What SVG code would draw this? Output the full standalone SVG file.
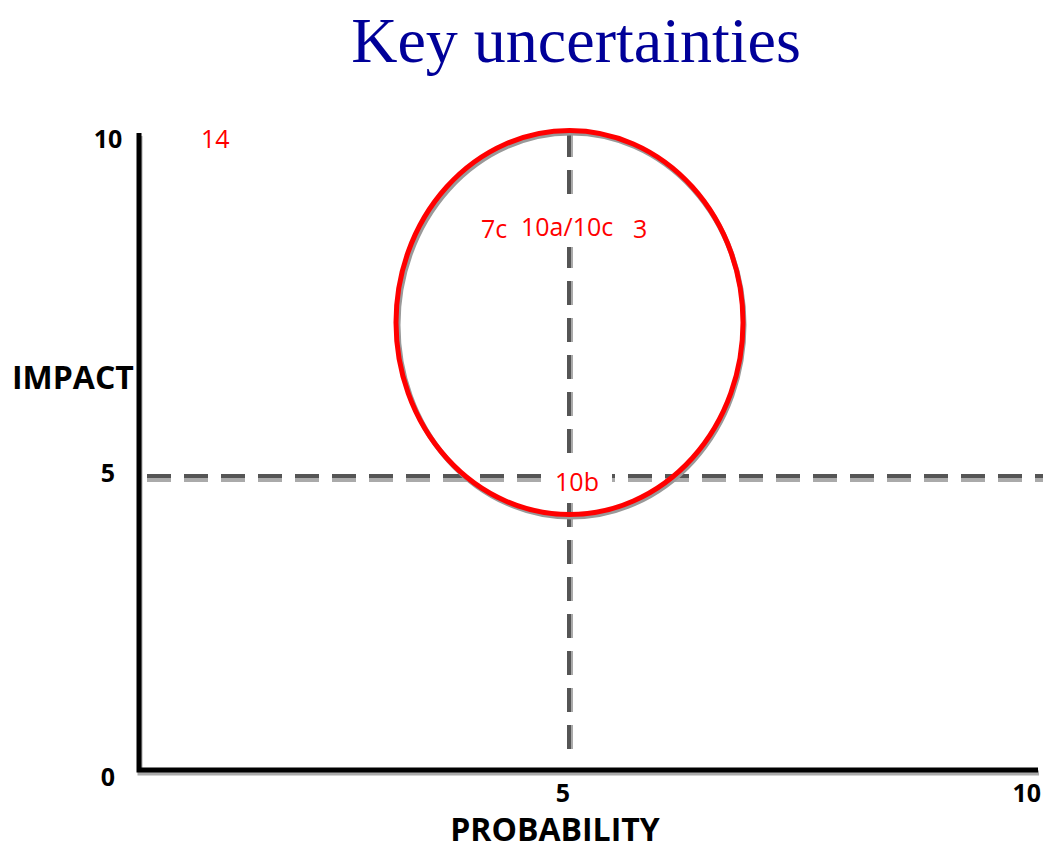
<svg xmlns="http://www.w3.org/2000/svg" width="1043" height="848" viewBox="0 0 1043 848">
<style>
.ax{font-family:"Open Sans","Liberation Sans",sans-serif;font-weight:bold;fill:#000}
.num{font-size:25px}
.big{font-size:32px}
.lb{font-family:"Open Sans","Liberation Sans",sans-serif;fill:#ff0000;font-size:25px}
.bg{fill:#fff}
.dash{stroke:#555;stroke-width:4;stroke-dasharray:24 13;fill:none}
.dashsh{stroke:#aaa;stroke-width:4;stroke-dasharray:24 13;fill:none}
</style>
<rect width="1043" height="848" fill="#fff"/>
<text x="576" y="62" text-anchor="middle" font-family="Liberation Serif,serif" font-size="64" fill="#000099">Key uncertainties</text>
<g id="connectors">
<line class="dashsh" x1="147" y1="480" x2="1043" y2="480"/>
<line class="dash" x1="147" y1="476" x2="1043" y2="476"/>
<line class="dashsh" x1="571" y1="133" x2="571" y2="760"/>
<line class="dash" x1="569" y1="133" x2="569" y2="760"/>
</g>
<g id="axes">
<path d="M139 133 V770 H1038" stroke="#aaa" stroke-width="5" fill="none" transform="translate(1,3)"/>
<path d="M139 133 V770 H1038" stroke="#000" stroke-width="5" fill="none"/>
</g>
<g id="ellipse">
<ellipse cx="571" cy="325" rx="173" ry="192" fill="none" stroke="#999" stroke-width="5"/>
<ellipse cx="569.5" cy="322.5" rx="173.5" ry="192" fill="none" stroke="#ff0000" stroke-width="5"/>
</g>
<g id="axis-labels">
<text class="ax num" x="108" y="148" text-anchor="middle">10</text>
<text class="ax num" x="108" y="482" text-anchor="middle">5</text>
<text class="ax num" x="108" y="786" text-anchor="middle">0</text>
<text class="ax num" x="563" y="802" text-anchor="middle">5</text>
<text class="ax num" x="1041" y="802" text-anchor="end">10</text>
<text class="ax big" x="12" y="389">IMPACT</text>
<text class="ax big" x="555" y="841" text-anchor="middle">PROBABILITY</text>
</g>
<g id="n14"><text class="lb" x="201" y="148">14</text></g>
<g id="n7c"><text class="lb" x="481" y="238">7c</text></g>
<g id="n10a10c"><rect class="bg" x="517" y="207" width="100" height="40"/><text class="lb" x="521" y="236">10a/10c</text></g>
<g id="n3"><text class="lb" x="633" y="238">3</text></g>
<g id="n10b"><rect class="bg" x="541" y="464" width="71" height="34"/><text class="lb" x="577" y="491" text-anchor="middle">10b</text></g>
</svg>
